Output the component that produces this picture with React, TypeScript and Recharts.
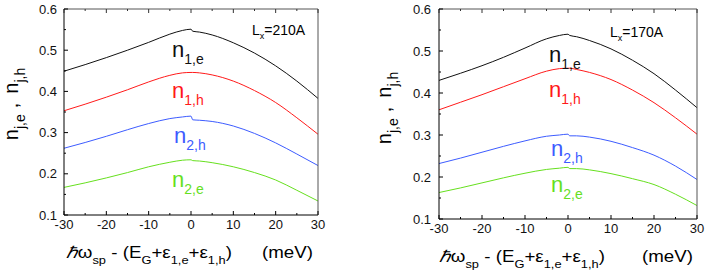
import React from 'react';
import { LineChart, Line, XAxis, YAxis } from 'recharts';

// photon energy offset (meV)
const xMeV = [-30, -25, -20, -15, -10, -5, -2, 0, 0.4, 2, 5, 10, 15, 20, 25, 30];

// Lx = 210 A panel
const l210_n1e = [0.449, 0.465, 0.482, 0.500, 0.519, 0.539, 0.548, 0.551, 0.546, 0.544, 0.537, 0.518, 0.493, 0.462, 0.425, 0.383];
const l210_n1h = [0.353, 0.369, 0.386, 0.404, 0.423, 0.439, 0.445, 0.446, 0.446, 0.445, 0.440, 0.425, 0.402, 0.373, 0.336, 0.296];
const l210_n2h = [0.262, 0.276, 0.291, 0.307, 0.322, 0.334, 0.338, 0.340, 0.331, 0.330, 0.327, 0.316, 0.298, 0.275, 0.248, 0.220];
const l210_n2e = [0.167, 0.178, 0.190, 0.203, 0.217, 0.228, 0.233, 0.234, 0.232, 0.231, 0.227, 0.217, 0.203, 0.185, 0.160, 0.134];

// Lx = 170 A panel
const l170_n1e = [0.430, 0.447, 0.465, 0.485, 0.507, 0.529, 0.537, 0.540, 0.537, 0.534, 0.525, 0.505, 0.478, 0.446, 0.407, 0.365];
const l170_n1h = [0.360, 0.378, 0.396, 0.415, 0.434, 0.452, 0.458, 0.459, 0.459, 0.456, 0.449, 0.432, 0.407, 0.377, 0.341, 0.302];
const l170_n2h = [0.232, 0.245, 0.259, 0.273, 0.286, 0.297, 0.300, 0.302, 0.298, 0.298, 0.295, 0.285, 0.270, 0.252, 0.226, 0.194];
const l170_n2e = [0.163, 0.174, 0.186, 0.198, 0.209, 0.218, 0.221, 0.223, 0.220, 0.220, 0.217, 0.208, 0.196, 0.182, 0.159, 0.132];

const xMajor = [-30, -20, -10, 0, 10, 20, 30];
const xMinor = [-25, -15, -5, 5, 15, 25];
const yMajor = [0.1, 0.2, 0.3, 0.4, 0.5, 0.6];
const yMinor = [0.15, 0.25, 0.35, 0.45, 0.55];
const xTicks = [...xMajor, ...xMinor].sort((a, b) => a - b);
const yTicks = [...yMajor, ...yMinor].sort((a, b) => a - b);

const panelTitles = ['210A', '170A'];

const FONT = '"Liberation Sans", Arial, Helvetica, sans-serif';
const C = { n1e: '#111111', n1h: '#ff1a1a', n2h: '#3d5cff', n2e: '#66e01e' };

function rows(a: number[], b: number[], c: number[], d: number[]) {
  return xMeV.map((x, i) => ({ x, n1e: a[i], n1h: b[i], n2h: c[i], n2e: d[i] }));
}

const isMajorX = (v: number) => xMajor.some((m) => Math.abs(m - v) < 1e-6);
const isMajorY = (v: number) => yMajor.some((m) => Math.abs(m - v) < 1e-6);

function BottomTick(props: any) {
  const { x, y, payload } = props;
  const major = isMajorX(payload.value);
  return (
    <g>
      <line x1={x} y1={y} x2={x} y2={y - (major ? 4 : 2)} stroke="#000" strokeWidth={1} />
      {major && (
        <text x={x} y={y + 14} textAnchor="middle" fontSize={13} fontFamily={FONT} fill="#111">
          {String(payload.value)}
        </text>
      )}
    </g>
  );
}

function TopTick(props: any) {
  const { x, y, payload } = props;
  const major = isMajorX(payload.value);
  return <line x1={x} y1={y} x2={x} y2={y + (major ? 4 : 2)} stroke="#333" strokeWidth={1} />;
}

function makeLeftTick(offset: number) {
  return function LeftTick(props: any) {
    const { x, y, payload } = props;
    const major = isMajorY(payload.value);
    return (
      <g>
        <line x1={x} y1={y} x2={x + (major ? 4 : 2)} y2={y} stroke="#000" strokeWidth={1} />
        {major && (
          <text x={x - offset} y={y + 4.5} textAnchor="end" fontSize={13} fontFamily={FONT} fill="#111">
            {Number(payload.value).toFixed(1)}
          </text>
        )}
      </g>
    );
  };
}

function RightTick(props: any) {
  const { x, y, payload } = props;
  const major = isMajorY(payload.value);
  return <line x1={x} y1={y} x2={x - (major ? 4 : 2)} y2={y} stroke="#333" strokeWidth={1} />;
}

type PanelProps = {
  data: any[];
  left: number;
  margin: { top: number; right: number; bottom: number; left: number };
  yLabelOffset: number;
};

function Panel({ data, left, margin, yLabelOffset }: PanelProps) {
  const LeftTick = makeLeftTick(yLabelOffset);
  return (
    <div style={{ position: 'absolute', left, top: 0 }}>
      <LineChart width={353} height={276} data={data} margin={margin}>
        <XAxis xAxisId="b" dataKey="x" type="number" domain={[-30, 30]} ticks={xTicks} interval={0}
          orientation="bottom" height={1} tick={<BottomTick />} tickSize={0} tickMargin={0} tickLine={false}
          axisLine={{ stroke: '#000' }} />
        <XAxis xAxisId="t" dataKey="x" type="number" domain={[-30, 30]} ticks={xTicks} interval={0}
          orientation="top" height={1} tick={<TopTick />} tickSize={0} tickMargin={0} tickLine={false}
          axisLine={{ stroke: '#555' }} />
        <YAxis yAxisId="l" type="number" domain={[0.1, 0.6]} ticks={yTicks} interval={0}
          orientation="left" width={1} tick={<LeftTick />} tickSize={0} tickMargin={0} tickLine={false}
          axisLine={{ stroke: '#000' }} />
        <YAxis yAxisId="r" type="number" domain={[0.1, 0.6]} ticks={yTicks} interval={0}
          orientation="right" width={1} tick={<RightTick />} tickSize={0} tickMargin={0} tickLine={false}
          axisLine={{ stroke: '#555' }} />
        {(['n1e', 'n1h', 'n2h', 'n2e'] as const).map((k) => (
          <Line key={k} xAxisId="b" yAxisId="l" dataKey={k} type="monotone" stroke={C[k]} strokeWidth={1}
            dot={false} activeDot={false} isAnimationActive={false} />
        ))}
      </LineChart>
    </div>
  );
}

function CurveLabel({ x, y, main, sub, color }: { x: number; y: number; main: string; sub: string; color: string }) {
  return (
    <text x={x} y={y} fill={color} fontSize={22} fontFamily={FONT}>
      {main}
      <tspan fontSize={14} dy={7}>{sub}</tspan>
    </text>
  );
}

function AxisTitle({ x, y, endX }: { x: number; y: number; endX: number }) {
  return (
    <g>
      <g transform={`translate(${x},${y}) scale(1.17,1)`}>
        <text x={0} y={0} fontSize={16} fontFamily={FONT} fill="#000">
          <tspan fontStyle="italic">ℏ</tspan>ω
          <tspan fontSize={11} dy={6}>sp</tspan>
          <tspan dy={-6}> - (E</tspan>
          <tspan fontSize={11} dy={6}>G</tspan>
          <tspan dy={-6}>+ε</tspan>
          <tspan fontSize={11} dy={6}>1,e</tspan>
          <tspan dy={-6}>+ε</tspan>
          <tspan fontSize={11} dy={6}>1,h</tspan>
          <tspan dy={-6}>)</tspan>
        </text>
      </g>
      <g transform={`translate(${endX},${y}) scale(1.17,1)`}>
        <text x={0} y={0} fontSize={16} fontFamily={FONT} fill="#000" textAnchor="end">(meV)</text>
      </g>
    </g>
  );
}

function YTitle({ x, y }: { x: number; y: number }) {
  return (
    <text transform={`translate(${x},${y}) rotate(-90)`} x={0} y={0} fontSize={20} fontFamily={FONT}
      fill="#000" textAnchor="middle">
      n<tspan fontSize={14} dy={7}>j,e</tspan>
      <tspan dy={-7} dx={6}>,</tspan>
      <tspan dx={9}>n</tspan>
      <tspan fontSize={14} dy={7}>j,h</tspan>
    </text>
  );
}

function LxLabel({ x, y, value }: { x: number; y: number; value: string }) {
  return (
    <text x={x} y={y} fontSize={14} fontFamily={FONT} fill="#000">
      L<tspan fontSize={9} dy={4}>x</tspan>
      <tspan dy={-4}>={value}</tspan>
    </text>
  );
}

export default function App() {
  const d210 = rows(l210_n1e, l210_n1h, l210_n2h, l210_n2e);
  const d170 = rows(l170_n1e, l170_n1h, l170_n2h, l170_n2e);
  return (
    <div style={{ position: 'absolute', left: 0, top: 0, width: 706, height: 276, background: '#fff', overflow: 'hidden' }}>
      <Panel data={d210} left={0} margin={{ top: 8, right: 34, bottom: 60, left: 63 }} yLabelOffset={7} />
      <Panel data={d170} left={353} margin={{ top: 8, right: 8, bottom: 56, left: 85 }} yLabelOffset={8} />
      <svg width={706} height={276} style={{ position: 'absolute', left: 0, top: 0, pointerEvents: 'none' }}>
        <YTitle x={18} y={104} />
        <YTitle x={391} y={108} />
        <LxLabel x={252} y={35} value={panelTitles[0]} />
        <LxLabel x={610} y={37} value={panelTitles[1]} />
        <CurveLabel x={172} y={57} main="n" sub="1,e" color={C.n1e} />
        <CurveLabel x={172} y={98} main="n" sub="1,h" color={C.n1h} />
        <CurveLabel x={174} y={143} main="n" sub="2,h" color={C.n2h} />
        <CurveLabel x={172} y={187} main="n" sub="2,e" color={C.n2e} />
        <CurveLabel x={549} y={62} main="n" sub="1,e" color={C.n1e} />
        <CurveLabel x={549} y={97} main="n" sub="1,h" color={C.n1h} />
        <CurveLabel x={551} y={156} main="n" sub="2,h" color={C.n2h} />
        <CurveLabel x={551} y={192} main="n" sub="2,e" color={C.n2e} />
        <AxisTitle x={66} y={258} endX={313} />
        <AxisTitle x={439} y={262} endX={693} />
      </svg>
    </div>
  );
}
